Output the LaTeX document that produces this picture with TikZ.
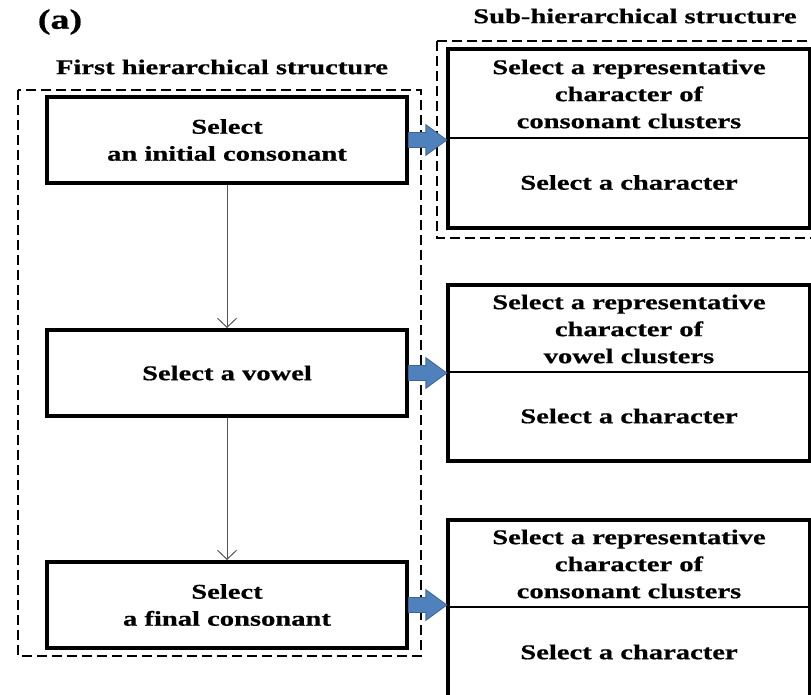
\documentclass[tikz,border=0pt]{standalone}
\usepackage{fontspec}
\setmainfont{Liberation Serif}[FakeStretch=1.36, BoldFeatures={FakeBold=0.6}]
\usetikzlibrary{arrows.meta}
\definecolor{arrowblue}{HTML}{4F81BD}
\definecolor{arrowedge}{HTML}{3A6598}
\definecolor{flowgray}{HTML}{555555}
\begin{document}
\begin{tikzpicture}[x=1pt,y=-1pt,
  lbl/.style={font=\fontsize{21}{27}\selectfont\bfseries, align=center, inner sep=0pt},
  stepbox/.style={lbl, draw, line width=4pt, minimum width=360pt, minimum height=86pt},
  cellbox/.style={lbl, draw, line width=2.5pt, minimum width=360pt},
  outerbox/.style={line width=4pt},
  groupbox/.style={line width=1.3pt, dash pattern=on 10pt off 5pt},
  flow/.style={flowgray, line width=1pt, -{Straight Barb[length=9pt,width=19pt]}},
  subarrowedge/.style={arrowedge, line width=16.5pt, -{Triangle[length=22.5pt,width=31pt]}},
  subarrow/.style={arrowblue, line width=14pt, -{Triangle[length=20pt,width=27pt]}}
]
\clip (0,0) rectangle (811,694);

% headings
\node[lbl, font=\fontsize{28}{32}\selectfont\bfseries] (tag) at (60,22) {(a)};
\node[lbl] (firsttitle) at (222,67) {First hierarchical structure};
\node[lbl] (subtitle) at (635,16) {Sub-hierarchical structure};

% dashed group frames
\draw[groupbox] (18,90) rectangle (421,656);
\draw[groupbox] (437,41) rectangle (830,238);

% first hierarchical structure
\node[stepbox] (b1) at (227,140) {Select\\an initial consonant};
\node[stepbox] (b2) at (227,373) {Select a vowel};
\node[stepbox] (b3) at (227,605) {Select\\a final consonant};

\draw[flow] (b1) -- (b2);
\draw[flow] (b2) -- (b3);

% sub-hierarchical structures
\node[cellbox, minimum height=88pt] (r1a) at (629,94) {Select a representative\\character of\\consonant clusters};
\node[cellbox, minimum height=89pt] (r1b) at (629,182.5) {Select a character};
\draw[outerbox] (r1a.north west) rectangle (r1b.south east);

\node[cellbox, minimum height=86pt] (r2a) at (629,329) {Select a representative\\character of\\vowel clusters};
\node[cellbox, minimum height=88pt] (r2b) at (629,416) {Select a character};
\draw[outerbox] (r2a.north west) rectangle (r2b.south east);

\node[cellbox, minimum height=86pt] (r3a) at (629,564) {Select a representative\\character of\\consonant clusters};
\node[cellbox, minimum height=90pt] (r3b) at (629,652) {Select a character};
\draw[outerbox] (r3a.north west) rectangle (r3b.south east);

% links to the sub-structures: darker rim first, blue body on top
\foreach \src/\dst in {b1/r1b, b2/r2b, b3/r3b}{
  \draw[subarrowedge, shorten <=-1pt] (\src.east) -- (\src.east -| \dst.west);
  \draw[subarrow, shorten >=1.5pt] (\src.east) -- (\src.east -| \dst.west);
}
\end{tikzpicture}
\end{document}
